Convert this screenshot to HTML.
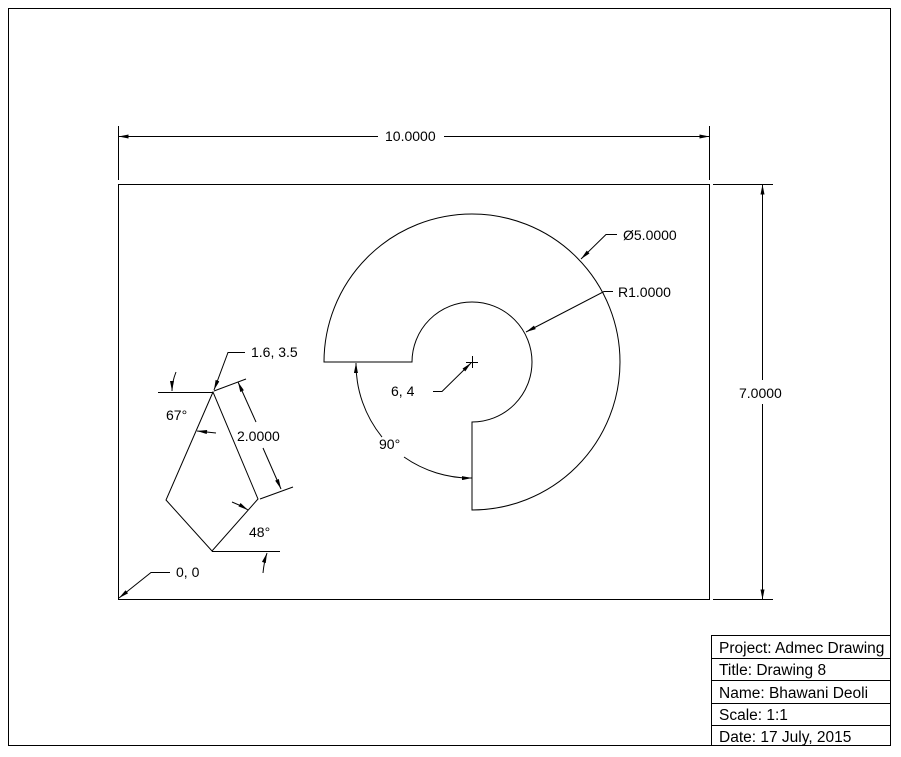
<!DOCTYPE html>
<html><head><style>
html,body{margin:0;padding:0;background:#fff;}
svg{display:block;}
text{font-family:"Liberation Sans",Arial,sans-serif;font-size:14px;fill:#000;}
text.tb{font-size:15.5px;}
</style></head><body>
<svg width="901" height="757" viewBox="0 0 901 757" xmlns="http://www.w3.org/2000/svg">
<defs>
<marker id="a" viewBox="0 0 10 4" refX="10" refY="2" markerWidth="12" markerHeight="4" markerUnits="userSpaceOnUse" orient="auto-start-reverse"><path d="M0,0 L10,2 L0,4 z" fill="#000"/></marker>
</defs>
<g fill="none" stroke="#000" stroke-width="1">
<rect x="8.5" y="8.5" width="882" height="737"/>
<rect x="711.5" y="635.5" width="179" height="110"/>
<line x1="711" y1="658.5" x2="891" y2="658.5"/>
<line x1="711" y1="680.5" x2="891" y2="680.5"/>
<line x1="711" y1="703.5" x2="891" y2="703.5"/>
<line x1="711" y1="725.5" x2="891" y2="725.5"/>
<rect x="118.5" y="184.5" width="591" height="415"/>
<line x1="118.5" y1="126" x2="118.5" y2="180"/>
<line x1="709.5" y1="126" x2="709.5" y2="180"/>
<line x1="118.5" y1="136.5" x2="378" y2="136.5" marker-start="url(#a)"/>
<line x1="444" y1="136.5" x2="709.5" y2="136.5" marker-end="url(#a)"/>
<line x1="713" y1="184.5" x2="773" y2="184.5"/>
<line x1="713" y1="599.5" x2="773" y2="599.5"/>
<line x1="762.5" y1="184.5" x2="762.5" y2="380" marker-start="url(#a)"/>
<line x1="762.5" y1="404" x2="762.5" y2="599.5" marker-end="url(#a)"/>
<path d="M324,362 A148,148 0 1 1 472,510 L472,422 A60,60 0 1 0 412,362 Z"/>
<line x1="466" y1="362.5" x2="478" y2="362.5"/>
<line x1="472.5" y1="356" x2="472.5" y2="368"/>
<path d="M433,391.5 L442,391.5 L471,363" marker-end="url(#a)"/>
<path d="M617,234.5 L606,234.5 L581,259" marker-end="url(#a)"/>
<path d="M613,291.5 L604,291.5 L526,332" marker-end="url(#a)"/>
<path d="M382,437 A116,116 0 0 1 356,363" marker-end="url(#a)"/>
<path d="M404,457 A116,116 0 0 0 472,478" marker-end="url(#a)"/>
<path d="M213,392 L166,500 L212,551 L258,499 Z"/>
<line x1="158" y1="392.5" x2="213" y2="392.5"/>
<line x1="212" y1="551.5" x2="280" y2="551.5"/>
<line x1="214" y1="391" x2="246" y2="379"/>
<line x1="260" y1="499" x2="293" y2="487"/>
<line x1="256" y1="422" x2="238" y2="382" marker-end="url(#a)"/>
<line x1="263" y1="448" x2="281" y2="489" marker-end="url(#a)"/>
<path d="M245,352.5 L228,352.5 L214,390" marker-end="url(#a)"/>
<path d="M170,572.5 L151,572.5 L119,598" marker-end="url(#a)"/>
<path d="M176,372 Q172,382 172,391" marker-end="url(#a)"/>
<path d="M216,433 L197,431" marker-end="url(#a)"/>
<path d="M232,502 Q240,505 248,510" marker-end="url(#a)"/>
<path d="M263,573 Q264,562 267,553" marker-end="url(#a)"/>
</g>
<text x="385" y="141">10.0000</text>
<text x="739" y="398">7.0000</text>
<text x="623" y="240">Ø5.0000</text>
<text x="618" y="297">R1.0000</text>
<text x="391" y="396">6, 4</text>
<text x="379" y="449">90°</text>
<text x="251" y="357">1.6, 3.5</text>
<text x="166" y="420">67°</text>
<text x="237" y="441">2.0000</text>
<text x="249" y="537">48°</text>
<text x="176" y="577">0, 0</text>
<text class="tb" x="719" y="653">Project: Admec Drawing</text>
<text class="tb" x="719" y="675">Title: Drawing 8</text>
<text class="tb" x="719" y="698">Name: Bhawani Deoli</text>
<text class="tb" x="719" y="720">Scale: 1:1</text>
<text class="tb" x="719" y="742">Date: 17 July, 2015</text>
</svg>
</body></html>
